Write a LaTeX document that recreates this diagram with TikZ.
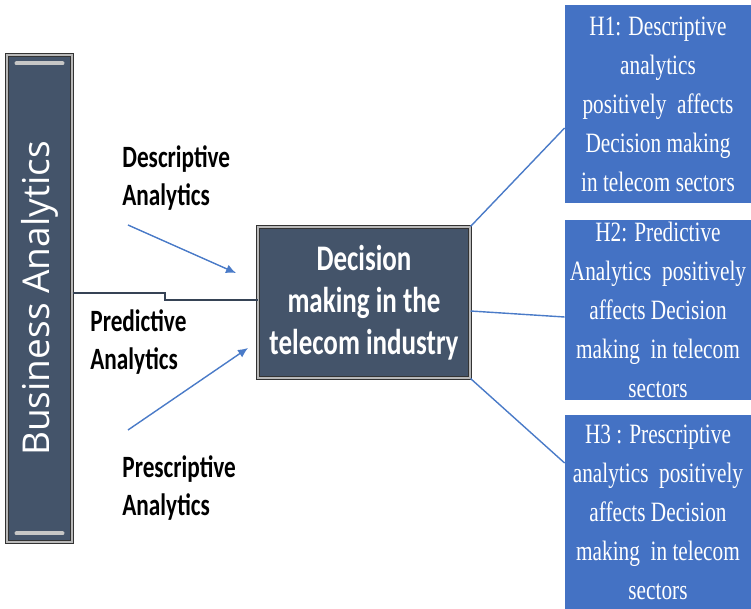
\documentclass[tikz,border=0pt]{standalone}
\usepackage{graphicx}
\usepackage{fontspec}
\setmainfont{Liberation Serif}
\newfontfamily\etiqfont[FakeStretch=0.75]{Carlito}
\newfontfamily\hipfont[FakeStretch=0.76]{Liberation Serif}
\newfontfamily\barrafont{Open Sans}
\usetikzlibrary{arrows.meta,positioning,calc}
\definecolor{pizarra}{HTML}{44546A}
\definecolor{azulH}{HTML}{4472C4}
\definecolor{azulLinea}{HTML}{4A7BC8}
\tikzset{
  pizarrabox/.style={rectangle, draw=black!80, line width=0.5pt, double=gray!55, double distance=1.2pt,
                     fill=pizarra, text=white, align=center, inner sep=2pt},
  hip/.style={rectangle, fill=azulH, text=white, align=center, inner sep=1pt,
              minimum width=93pt, font=\hipfont\fontsize{14}{19.5}\selectfont},
  etiq/.style={anchor=west, align=left, inner sep=0pt, font=\etiqfont\bfseries\fontsize{15.5}{19}\selectfont},
  flecha/.style={-{Latex[length=5pt,width=4.5pt]}, draw=azulLinea, line width=0.7pt},
  enlace/.style={draw=azulLinea, line width=0.7pt},
  escalon/.style={draw=pizarra!80!black, line width=0.9pt}
}
\begin{document}
\begin{tikzpicture}[x=0.5pt,y=-0.5pt]
\useasboundingbox (0,0) rectangle (751,609);
\fill[white] (0,0) rectangle (751,609);

% barra y caja central
\node[pizarrabox, minimum width=32.5pt, minimum height=243.5pt] (ba) at (39.5,298.5)
  {\rotatebox{90}{\barrafont\fontsize{18.5}{22}\selectfont Business Analytics}};
\draw[gray!45, line width=2pt, line cap=round] ($(ba.north west)+(10,9)$) -- ($(ba.north east)+(-10,9)$);
\draw[gray!45, line width=2pt, line cap=round] ($(ba.south west)+(10,-9)$) -- ($(ba.south east)+(-10,-9)$);
\node[pizarrabox, minimum width=106pt, minimum height=75.5pt,
      font=\etiqfont\bfseries\fontsize{18}{21}\selectfont] (dm) at (364,302.5)
  {Decision\\ making in the\\ telecom industry};

% etiquetas
\node[etiq] (desc) at (122,178) {Descriptive\\ Analytics};
\node[etiq] (pred) at (90,342) {Predictive\\ Analytics};
\node[etiq] (pres) at (122,488) {Prescriptive\\ Analytics};

% hipotesis
\node[hip, minimum height=99pt] (h1) at (658,104)
  {H1: Descriptive\\ analytics\\ positively\ \ affects\\ Decision making\\ in telecom sectors};
\node[hip, minimum height=90pt] (h2) at (658,310)
  {H2: Predictive\\ Analytics\ \ positively\\ affects Decision\\ making\ \ in telecom\\ sectors};
\node[hip, minimum height=97pt] (h3) at (658,512)
  {H3 : Prescriptive\\ analytics\ \ positively\\ affects Decision\\ making\ \ in telecom\\ sectors};

% flechas
\coordinate (a1s) at (128,225);
\coordinate (a1e) at (236,273);
\coordinate (a2s) at (128,430);
\coordinate (a2e) at (248,348);
\draw[flecha] (a1s) -- (a1e);
\draw[flecha] (a2s) -- (a2e);
\draw[escalon] (ba.east |- 0,293) -- (165,293) -- (165,300) -- (dm.west |- 0,300);

\draw[enlace] (dm.north east) -- (h1.west |- 0,128);
\draw[enlace] (dm.east |- 0,311) -- (h2.west |- 0,317);
\draw[enlace] (dm.south east) -- (h3.west |- 0,463);
\end{tikzpicture}
\end{document}
